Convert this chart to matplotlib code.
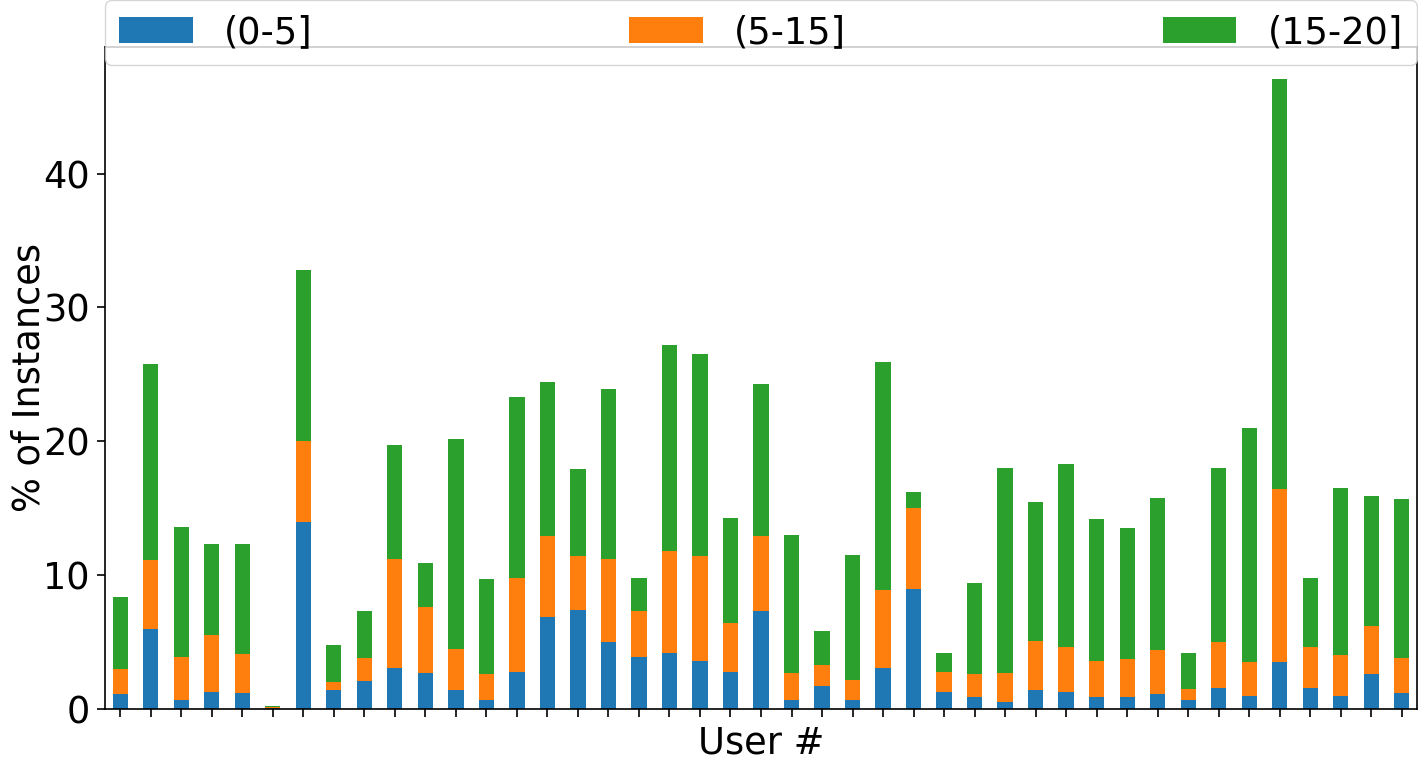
import matplotlib
matplotlib.use("Agg")
import matplotlib.pyplot as plt
import numpy as np

labels = ["(0-5]", "(5-15]", "(15-20]"]
users = list(range(1, 44))
# cumulative tops
low = [1.1, 6.0, 0.7, 1.3, 1.2, 0.05, 14.0, 1.4, 2.1, 3.1, 2.7, 1.4, 0.7, 2.8, 6.9,
       7.4, 5.0, 3.9, 4.2, 3.6, 2.8, 7.3, 0.7, 1.7, 0.7, 3.1, 9.0, 1.3, 0.9, 0.5,
       1.4, 1.3, 0.9, 0.9, 1.1, 0.7, 1.6, 1.0, 3.5, 1.6, 1.0, 2.6, 1.2]
mid_top = [3.0, 11.1, 3.9, 5.5, 4.1, 0.15, 20.0, 2.0, 3.8, 11.2, 7.6, 4.5, 2.6, 9.8, 12.9,
           11.4, 11.2, 7.3, 11.8, 11.4, 6.4, 12.9, 2.7, 3.3, 2.2, 8.9, 15.0, 2.8, 2.6, 2.7,
           5.1, 4.6, 3.6, 3.7, 4.4, 1.5, 5.0, 3.5, 16.4, 4.6, 4.0, 6.2, 3.8]
total = [8.4, 25.8, 13.6, 12.3, 12.3, 0.22, 32.8, 4.8, 7.3, 19.7, 10.9, 20.2, 9.7, 23.3, 24.4,
         17.9, 23.9, 9.8, 27.2, 26.5, 14.3, 24.3, 13.0, 5.8, 11.5, 25.9, 16.2, 4.2, 9.4, 18.0,
         15.5, 18.3, 14.2, 13.5, 15.8, 4.2, 18.0, 21.0, 47.1, 9.8, 16.5, 15.9, 15.7]

low = np.array(low)
mid = np.array(mid_top) - low
high = np.array(total) - np.array(mid_top)

colors = ["#1f77b4", "#ff7f0e", "#2ca02c"]
FS = 26.5

fig = plt.figure(figsize=(14.18, 7.60), dpi=100)
ax = fig.add_axes([105 / 1418, 51 / 760, 1312 / 1418, 662 / 760])

x = np.arange(len(users))
ax.bar(x, low, width=0.5, color=colors[0], label=labels[0])
ax.bar(x, mid, width=0.5, bottom=low, color=colors[1], label=labels[1])
ax.bar(x, high, width=0.5, bottom=low + mid, color=colors[2], label=labels[2])

ax.set_xlim(-0.5, len(users) - 0.5)
ax.set_ylim(0, max(total) * 1.05)
ax.set_xticks(x)
ax.set_xticklabels([])
ax.set_yticks([0, 10, 20, 30, 40])
ax.tick_params(axis="both", labelsize=FS, length=6, width=1.2, pad=5)
for s in ax.spines.values():
    s.set_linewidth(1.2)
ax.set_xlabel("User #", fontsize=FS, labelpad=0)
ax.set_ylabel("% of Instances", fontsize=FS, labelpad=-3)

ax.legend(loc="lower left", bbox_to_anchor=(0, (709 - 65) / 662, 1, 0.1),
          mode="expand", ncol=3, fontsize=FS, borderaxespad=0,
          borderpad=0.38, handletextpad=0.85)

fig.savefig("out.png", dpi=100)
